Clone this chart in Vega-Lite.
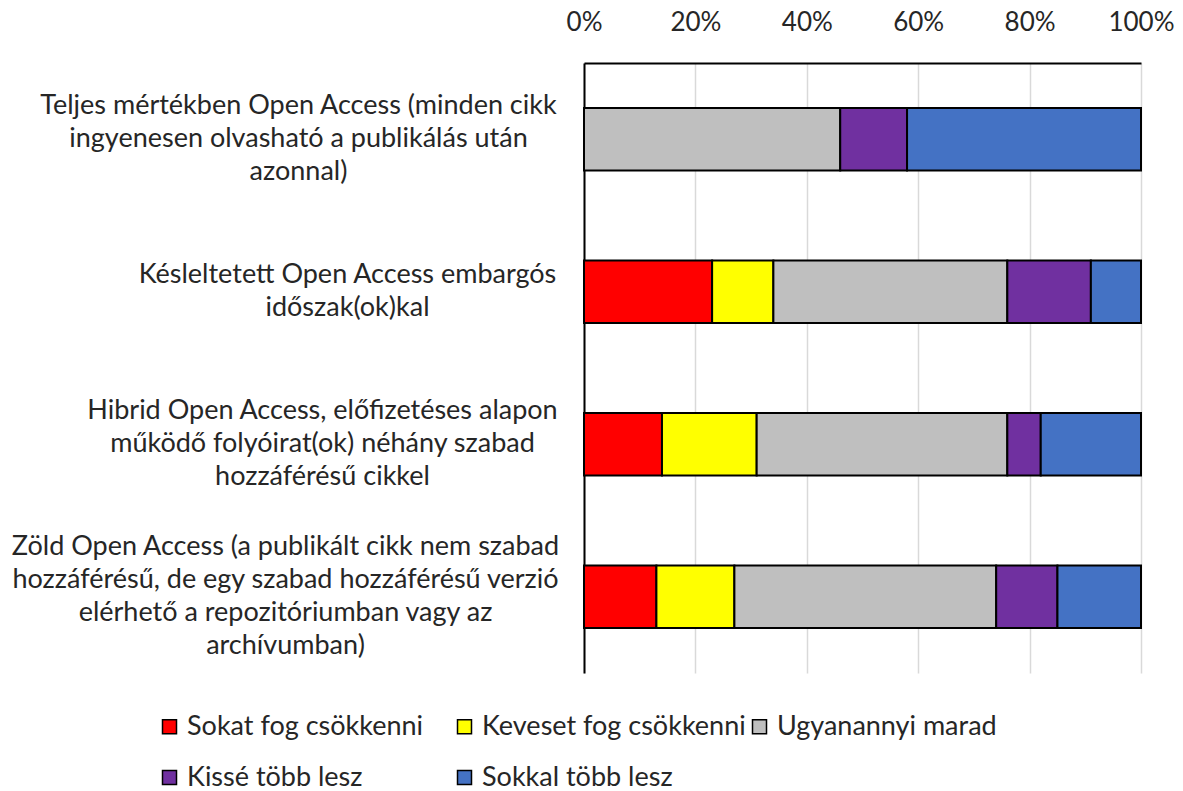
{
  "$schema": "https://vega.github.io/schema/vega-lite/v6.json",
  "width": 557,
  "height": 610,
  "autosize": {"type": "none"},
  "padding": {"left": 584, "top": 63, "right": 42, "bottom": 118},
  "background": "white",
  "config": {"font": "Lato", "view": {"stroke": null}},
  "data": {
    "values": [
      {"cat": "Teljes mértékben Open Access (minden cikk|ingyenesen olvasható a publikálás után|azonnal)", "resp": "Ugyanannyi marad", "ord": 3, "val": 0.46},
      {"cat": "Teljes mértékben Open Access (minden cikk|ingyenesen olvasható a publikálás után|azonnal)", "resp": "Kissé több lesz", "ord": 4, "val": 0.12},
      {"cat": "Teljes mértékben Open Access (minden cikk|ingyenesen olvasható a publikálás után|azonnal)", "resp": "Sokkal több lesz", "ord": 5, "val": 0.42},
      {"cat": "Késleltetett Open Access embargós|időszak(ok)kal", "resp": "Sokat fog csökkenni", "ord": 1, "val": 0.23},
      {"cat": "Késleltetett Open Access embargós|időszak(ok)kal", "resp": "Keveset fog csökkenni", "ord": 2, "val": 0.11},
      {"cat": "Késleltetett Open Access embargós|időszak(ok)kal", "resp": "Ugyanannyi marad", "ord": 3, "val": 0.42},
      {"cat": "Késleltetett Open Access embargós|időszak(ok)kal", "resp": "Kissé több lesz", "ord": 4, "val": 0.15},
      {"cat": "Késleltetett Open Access embargós|időszak(ok)kal", "resp": "Sokkal több lesz", "ord": 5, "val": 0.09},
      {"cat": "Hibrid Open Access, előfizetéses alapon|működő folyóirat(ok) néhány szabad|hozzáférésű cikkel", "resp": "Sokat fog csökkenni", "ord": 1, "val": 0.14},
      {"cat": "Hibrid Open Access, előfizetéses alapon|működő folyóirat(ok) néhány szabad|hozzáférésű cikkel", "resp": "Keveset fog csökkenni", "ord": 2, "val": 0.17},
      {"cat": "Hibrid Open Access, előfizetéses alapon|működő folyóirat(ok) néhány szabad|hozzáférésű cikkel", "resp": "Ugyanannyi marad", "ord": 3, "val": 0.45},
      {"cat": "Hibrid Open Access, előfizetéses alapon|működő folyóirat(ok) néhány szabad|hozzáférésű cikkel", "resp": "Kissé több lesz", "ord": 4, "val": 0.06},
      {"cat": "Hibrid Open Access, előfizetéses alapon|működő folyóirat(ok) néhány szabad|hozzáférésű cikkel", "resp": "Sokkal több lesz", "ord": 5, "val": 0.18},
      {"cat": "Zöld Open Access (a publikált cikk nem szabad|hozzáférésű, de egy szabad hozzáférésű verzió|elérhető a repozitóriumban vagy az|archívumban)", "resp": "Sokat fog csökkenni", "ord": 1, "val": 0.13},
      {"cat": "Zöld Open Access (a publikált cikk nem szabad|hozzáférésű, de egy szabad hozzáférésű verzió|elérhető a repozitóriumban vagy az|archívumban)", "resp": "Keveset fog csökkenni", "ord": 2, "val": 0.14},
      {"cat": "Zöld Open Access (a publikált cikk nem szabad|hozzáférésű, de egy szabad hozzáférésű verzió|elérhető a repozitóriumban vagy az|archívumban)", "resp": "Ugyanannyi marad", "ord": 3, "val": 0.47},
      {"cat": "Zöld Open Access (a publikált cikk nem szabad|hozzáférésű, de egy szabad hozzáférésű verzió|elérhető a repozitóriumban vagy az|archívumban)", "resp": "Kissé több lesz", "ord": 4, "val": 0.11},
      {"cat": "Zöld Open Access (a publikált cikk nem szabad|hozzáférésű, de egy szabad hozzáférésű verzió|elérhető a repozitóriumban vagy az|archívumban)", "resp": "Sokkal több lesz", "ord": 5, "val": 0.15}
    ]
  },
  "mark": {"type": "bar", "stroke": "black", "strokeWidth": 2},
  "encoding": {
    "y": {
      "field": "cat",
      "type": "nominal",
      "sort": null,
      "scale": {"paddingInner": 0.59, "paddingOuter": 0.295},
      "axis": {
        "title": null,
        "orient": "left",
        "domainColor": "black",
        "domainWidth": 2,
        "ticks": false,
        "labelAlign": "center",
        "labelBaseline": "middle",
        "labelPadding": {"expr": "datum ? (indexof(datum.value, 'Késleltetett') == 0 ? 237 : indexof(datum.value, 'Hibrid') == 0 ? 262 : indexof(datum.value, 'Zöld') == 0 ? 299 : 286) : 286"},
        "labelOffset": {"expr": "datum ? -(length(split(datum.value, '|')) - 1) * 16.5 : 0"},
        "labelLimit": 1000,
        "labelFontSize": 27,
        "labelLineHeight": 33,
        "labelColor": "#262626",
        "labelExpr": "split(datum.label, '|')"
      }
    },
    "x": {
      "field": "val",
      "type": "quantitative",
      "stack": "zero",
      "scale": {"domain": [0, 1]},
      "axis": {
        "title": null,
        "orient": "top",
        "format": ".0%",
        "values": [0, 0.2, 0.4, 0.6, 0.8, 1],
        "grid": true,
        "gridColor": "#D9D9D9",
        "gridWidth": 1.5,
        "domainColor": "black",
        "domainWidth": 2,
        "ticks": false,
        "labelFontSize": 26,
        "labelColor": "#262626",
        "labelPadding": 28,
        "labelFlush": false
      }
    },
    "color": {
      "field": "resp",
      "type": "nominal",
      "scale": {
        "domain": ["Sokat fog csökkenni", "Keveset fog csökkenni", "Ugyanannyi marad", "Kissé több lesz", "Sokkal több lesz"],
        "range": ["#FF0000", "#FFFF00", "#BFBFBF", "#7030A0", "#4472C4"]
      },
      "legend": {
        "title": null,
        "orient": "none",
        "legendX": -428,
        "legendY": 650,
        "direction": "horizontal",
        "columns": 3,
        "gridAlign": "all",
        "columnPadding": 0,
        "rowPadding": 23,
        "symbolType": "square",
        "symbolSize": 196,
        "symbolStrokeColor": "black",
        "symbolStrokeWidth": 1.5,
        "labelFontSize": 27,
        "labelColor": "#262626",
        "labelOffset": 4,
        "labelLimit": 1000
      }
    },
    "order": {"field": "ord"}
  }
}
